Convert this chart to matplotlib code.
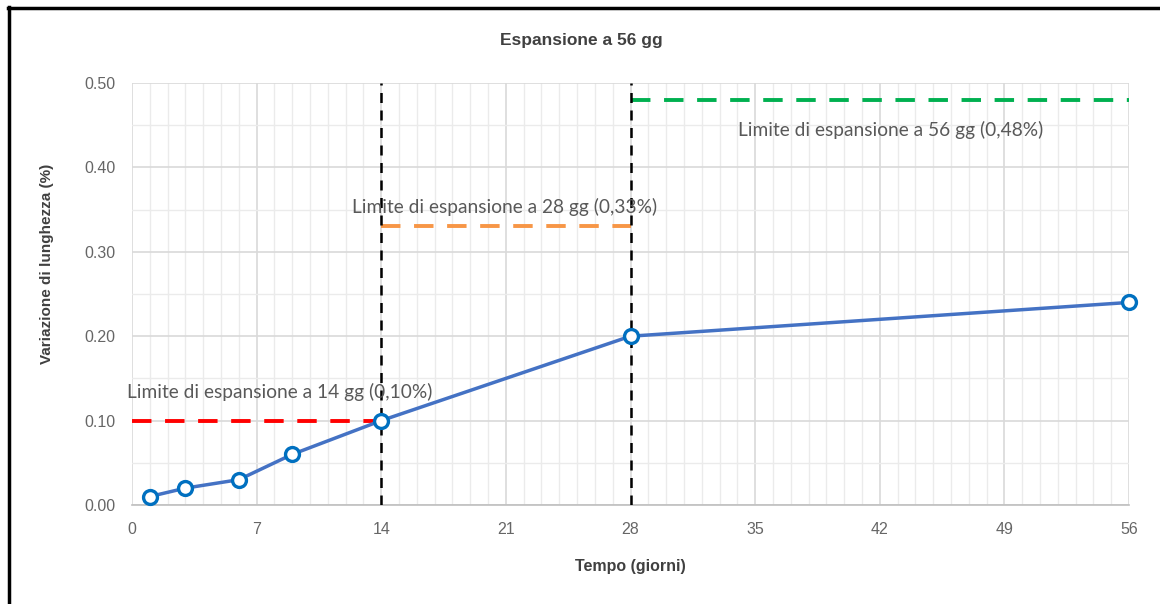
import numpy as np
import matplotlib.pyplot as plt
from matplotlib.lines import Line2D
from matplotlib.ticker import MultipleLocator, FormatStrFormatter

plt.rcParams['font.family'] = ['Liberation Sans', 'DejaVu Sans']

# dati
giorni = [1, 3, 6, 9, 14, 28, 56]
espansione = [0.01, 0.02, 0.03, 0.06, 0.10, 0.20, 0.24]

# limiti di espansione: (da, a, valore, colore, etichetta, pos. etichetta)
lim_x0 = [0, 14, 28]
lim_x1 = [14, 28, 56]
lim_val = [0.10, 0.33, 0.48]
lim_col = ['#FF0000', '#F79646', '#00B050']
lim_txt = ['Limite di espansione a 14 gg (0,10%)',
           'Limite di espansione a 28 gg (0,33%)',
           'Limite di espansione a 56 gg (0,48%)']
txt_x = [8.3, 20.9, 42.6]
txt_y = [0.134, 0.353, 0.444]

scadenze = [14, 28]

W, H = 1160, 604
fig = plt.figure(figsize=(W / 100, H / 100), dpi=100)
ax = fig.add_axes([132 / W, 1 - 505 / H, (1129 - 132) / W, (505 - 83) / H])

ax.set_xlim(0, 56)
ax.set_ylim(0, 0.5)
ax.xaxis.set_major_locator(MultipleLocator(7))
ax.xaxis.set_minor_locator(MultipleLocator(1))
ax.yaxis.set_major_locator(MultipleLocator(0.1))
ax.yaxis.set_minor_locator(MultipleLocator(0.05))
ax.yaxis.set_major_formatter(FormatStrFormatter('%.2f'))

ax.grid(which='minor', color='#EBEBEB', lw=1.0, zorder=0)
ax.grid(which='major', color='#D9D9D9', lw=1.2, zorder=0)
ax.set_axisbelow(True)
for s in ['top', 'right', 'left']:
    ax.spines[s].set_visible(False)
ax.spines['bottom'].set_color('#BFBFBF')
ax.spines['bottom'].set_linewidth(1.2)
ax.tick_params(which='both', length=0, colors='#666666', labelsize=11.5)
ax.tick_params(axis='x', pad=12)
ax.tick_params(axis='y', pad=12)

# linee dei limiti
for x0, x1, v, c in zip(lim_x0, lim_x1, lim_val, lim_col):
    ax.plot([x0, x1], [v, v], color=c, lw=2.8, dashes=(5, 3.5), zorder=3)

for x in scadenze:
    ax.plot([x, x], [0, 0.5], color='black', lw=1.8, dashes=(4, 3), zorder=4)

for t, x, y in zip(lim_txt, txt_x, txt_y):
    ax.text(x, y, t, ha='center', va='center', fontsize=13.8,
            family='Lato', color='#595959', zorder=5)

ax.plot(giorni, espansione, color='#4472C4', lw=2.5, marker='o', ms=10,
        mfc='white', mec='#0070C0', mew=2.4, zorder=6, clip_on=False)

fig.text(581 / W, 1 - 40 / H, 'Espansione a 56 gg',
         ha='center', va='center', fontsize=12.5, fontweight='bold',
         color='#404040')
fig.text((132 + 1129) / 2 / W, 1 - 566 / H, 'Tempo (giorni)',
         ha='center', va='center', fontsize=11.5, fontweight='bold',
         color='#404040')
fig.text(47 / W, 1 - 264 / H, 'Variazione di lunghezza (%)',
         ha='center', va='center', rotation=90, fontsize=11,
         fontweight='bold', color='#404040')

# cornice nera
fig.add_artist(Line2D([9 / W, 9 / W], [0, 1 - 7 / H], color='black', lw=2.5,
                      transform=fig.transFigure))
fig.add_artist(Line2D([8 / W, 1], [1 - 8 / H, 1 - 8 / H], color='black', lw=2.5,
                      transform=fig.transFigure))

fig.savefig('out.png', dpi=100)
